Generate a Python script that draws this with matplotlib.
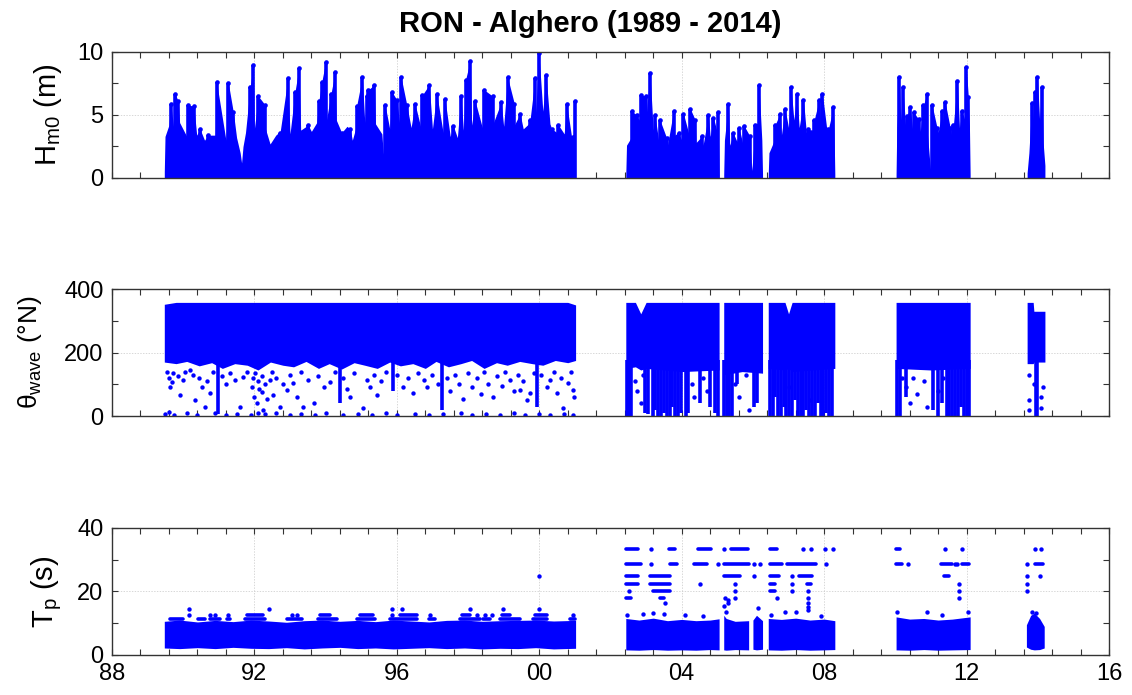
import numpy as np
import matplotlib
matplotlib.use('Agg')
import matplotlib.pyplot as plt
from matplotlib.ticker import MultipleLocator, FuncFormatter

plt.rcParams['font.family'] = ['Liberation Sans', 'DejaVu Sans']
plt.rcParams['mathtext.fontset'] = 'custom'
plt.rcParams['mathtext.rm'] = 'Liberation Sans'
plt.rcParams['mathtext.it'] = 'Liberation Sans:italic'

BLUE = '#0000ff'
nan = np.nan

# ---------------- Hm0 (m) ----------------
# top of the solid part of the cloud (decimal year, m); NaN = gap in the record
hm_floor_t = [1989.47, 1989.49, 1989.6, 1989.75, 1989.9, 1990.1, 1990.38, 1990.6, 1990.9, 1991.2,
              1991.5, 1991.6, 1991.64, 1991.68, 1991.75, 1992.0, 1992.3, 1992.44, 1992.6, 1992.72,
              1993.0, 1993.3, 1993.6, 1993.75, 1994.0, 1994.3, 1994.6, 1994.75, 1994.87, 1995.1,
              1995.4, 1995.58, 1995.62, 1995.66, 1995.8, 1996.1, 1996.4, 1996.7, 1997.0, 1997.3,
              1997.5, 1997.7, 1997.87, 1998.1, 1998.4, 1998.7, 1999.0, 1999.3, 1999.55, 1999.74,
              1999.9, 2000.1, 2000.3, 2000.5, 2000.7, 2000.9, 2001.0, 2001.02, nan,
              2002.43, 2002.45, 2002.6, 2002.8, 2003.0, 2003.2, 2003.35, 2003.6, 2003.8, 2004.0,
              2004.2, 2004.4, 2004.6, 2004.8, 2005.0, 2005.03, 2005.05, nan,
              2005.18, 2005.2, 2005.35, 2005.55, 2005.75, 2005.93, 2005.97, 2006.02, 2006.15,
              2006.25, 2006.27, nan,
              2006.43, 2006.45, 2006.6, 2006.8, 2007.0, 2007.15, 2007.3, 2007.5, 2007.7, 2007.9,
              2008.1, 2008.28, 2008.3, nan,
              2010.02, 2010.04, 2010.15, 2010.3, 2010.5, 2010.7, 2010.9, 2010.96, 2010.99, 2011.02,
              2011.2, 2011.4, 2011.6, 2011.8, 2011.95, 2012.08, 2012.1, nan,
              2013.7, 2013.75, 2013.85, 2013.95, 2014.05, 2014.15, 2014.2]
hm_floor_v = [0.5, 3.3, 4.2, 3.6, 4.4, 3.3, 3.4, 3.0, 3.4, 3.0,
              3.2, 2.0, 1.2, 2.5, 3.6, 3.9, 4.0, 2.7, 3.4, 3.7,
              3.5, 3.8, 3.7, 4.4, 4.2, 4.6, 4.1, 3.0, 4.2, 4.4,
              4.3, 3.5, 1.9, 3.0, 3.9, 3.8, 4.0, 3.7, 3.9, 3.6,
              3.3, 3.2, 3.8, 4.2, 4.0, 4.3, 4.1, 4.2, 3.9, 4.4,
              5.2, 5.3, 4.3, 3.6, 3.5, 3.4, 3.5, 0.3, nan,
              0.3, 2.6, 3.3, 4.6, 4.9, 3.8, 3.0, 2.6, 3.4, 3.0,
              3.5, 2.8, 2.6, 3.3, 3.6, 3.4, 0.3, nan,
              0.3, 3.0, 2.6, 2.9, 2.3, 2.2, 0.6, 2.4, 4.4,
              3.0, 0.3, nan,
              0.3, 2.0, 3.0, 3.4, 4.0, 4.6, 4.0, 3.6, 3.8, 4.2,
              3.3, 3.6, 0.3, nan,
              0.3, 4.0, 4.6, 3.6, 3.4, 3.7, 3.5, 1.5, 0.6, 2.8,
              3.6, 3.3, 3.0, 4.0, 4.6, 4.2, 0.3, nan,
              0.4, 2.0, 4.5, 5.0, 4.6, 2.8, 1.0]
# storm peaks
hm_peak_t = [1989.65, 1989.77, 1989.86, 1990.13, 1990.30, 1990.47, 1990.70, 1990.94, 1991.27,
             1991.41, 1991.88, 1991.97, 1992.11, 1992.30, 1992.72, 1992.94, 1993.14, 1993.25,
             1993.51, 1993.81, 1993.89, 1994.00, 1994.15, 1994.27, 1994.45, 1994.69, 1994.87,
             1995.03, 1995.15, 1995.20, 1995.37, 1995.67, 1995.86, 1996.00, 1996.12, 1996.28,
             1996.51, 1996.72, 1996.91, 1997.12, 1997.35, 1997.59, 1997.80, 1997.93, 1998.06,
             1998.20, 1998.45, 1998.69, 1998.93, 1999.11, 1999.30, 1999.46, 1999.74, 1999.88,
             1999.99, 2000.19, 2000.35, 2000.54, 2000.77, 2001.01,
             2002.60, 2002.74, 2002.86, 2002.99, 2003.11, 2003.25, 2003.39, 2003.58, 2003.77,
             2003.91, 2004.05, 2004.24, 2004.38, 2004.56, 2004.75, 2004.89, 2005.01,
             2005.31, 2005.45, 2005.61, 2005.76, 2005.92, 2006.06, 2006.17,
             2006.62, 2006.76, 2006.90, 2007.07, 2007.23, 2007.42, 2007.56, 2007.72, 2007.86,
             2007.95, 2008.12, 2008.26,
             2010.11, 2010.21, 2010.32, 2010.42, 2010.51, 2010.65, 2010.79, 2010.89, 2011.03,
             2011.17, 2011.31, 2011.40, 2011.54, 2011.63, 2011.74, 2011.87, 2011.99, 2012.05,
             2013.83, 2013.93, 2013.99, 2014.11]
hm_peak_v = [5.9, 6.7, 6.1, 5.8, 5.7, 3.9, 3.4, 7.6, 7.5,
             5.2, 7.2, 9.0, 6.5, 5.8, 3.6, 7.9, 6.85, 8.7,
             4.2, 6.1, 7.6, 9.2, 6.7, 8.4, 3.6, 3.9, 5.7,
             8.0, 6.5, 7.0, 7.4, 5.8, 6.85, 6.2, 8.0, 5.8,
             5.9, 6.6, 7.4, 6.7, 6.3, 4.1, 6.5, 7.8, 9.3,
             6.1, 7.0, 6.5, 6.0, 8.0, 5.9, 5.1, 4.6, 7.9,
             9.9, 8.2, 3.9, 4.2, 5.9, 6.1,
             5.3, 5.0, 6.6, 6.5, 8.3, 5.0, 4.6, 3.15, 5.3,
             3.6, 5.1, 5.5, 4.6, 3.3, 5.0, 4.8, 5.2,
             5.9, 3.55, 4.0, 4.1, 3.3, 4.2, 7.4,
             4.2, 5.1, 5.5, 7.2, 6.7, 6.2, 3.85, 4.6, 6.2,
             6.7, 3.9, 5.6,
             8.0, 7.25, 4.9, 5.6, 5.2, 4.7, 5.8, 6.7, 5.8,
             4.0, 5.3, 6.0, 4.0, 4.2, 7.7, 5.3, 8.8, 6.4,
             5.95, 6.85, 8.0, 7.25]

# ---------------- wave direction (deg N) ----------------
th_band_t = [1989.47, 1989.8, 1990.1, 1990.45, 1990.8, 1991.1, 1991.45, 1991.8, 1992.1, 1992.45,
             1992.8, 1993.1, 1993.45, 1993.8, 1994.1, 1994.45, 1994.8, 1995.1, 1995.45, 1995.8,
             1996.1, 1996.45, 1996.8, 1997.1, 1997.45, 1997.8, 1998.1, 1998.45, 1998.8, 1999.1,
             1999.45, 1999.8, 2000.1, 2000.45, 2000.8, 2001.02, nan,
             2002.43, 2002.7, 2002.85, 2003.0, 2004.0, 2005.05, nan,
             2005.18, 2005.7, 2006.27, nan,
             2006.43, 2006.9, 2007.0, 2007.1, 2008.3, nan,
             2010.02, 2011.0, 2012.1, nan,
             2013.7, 2013.87, 2013.89, 2014.2]
th_band_hi = [352] + [358] * 34 + [350, nan,
              358, 358, 322, 358, 358, 358, nan,
              358, 358, 358, nan,
              358, 358, 322, 358, 358, nan,
              358, 358, 358, nan,
              358, 358, 330, 330]
th_band_lo = [170, 165, 172, 158, 168, 150, 165, 160, 145, 170,
              160, 155, 172, 150, 165, 148, 168, 160, 150, 170,
              158, 165, 150, 172, 155, 165, 175, 150, 168, 160,
              172, 165, 160, 175, 168, 175, nan,
              150, 155, 145, 150, 140, 145, nan,
              130, 140, 135, nan,
              150, 145, 150, 140, 150, nan,
              150, 145, 150, nan,
              165, 165, 170, 170]
# streaks of points reaching down towards 0 deg
th_col_t = [1990.99, 1994.41, 1995.90, 1997.26, 1999.93,
            2002.45, 2002.52, 2002.59, 2002.97, 2003.04, 2003.18, 2003.26, 2003.34, 2003.42,
            2003.50, 2003.58, 2003.66, 2003.74, 2003.82, 2003.90, 2003.97, 2004.12, 2004.18,
            2004.52, 2004.80, 2004.94, 2005.03, 2005.20, 2005.27, 2005.34, 2005.41, 2005.55,
            2006.02, 2006.11, 2006.47, 2006.55, 2006.62, 2006.70, 2006.78, 2006.86, 2006.94,
            2007.02, 2007.10, 2007.18, 2007.26, 2007.34, 2007.42, 2007.50, 2007.58, 2007.66,
            2007.74, 2007.82, 2007.90, 2007.98, 2008.06, 2008.14, 2008.22,
            2010.05, 2010.12, 2010.30, 2011.07, 2011.20, 2011.30, 2011.45, 2011.52, 2011.60,
            2011.68, 2011.76, 2011.84, 2011.92, 2012.00, 2012.07, 2013.95, 2013.99]
th_col_lo = [5, 40, 80, 20, 30,
             0, 0, 0, 10, 5, 0, 20, 0, 0,
             10, 0, 0, 30, 0, 0, 10, 0, 10,
             40, 30, 10, 0, 0, 0, 0, 0, 100,
             30, 40, 0, 0, 60, 0, 0, 30, 0,
             0, 0, 50, 0, 0, 0, 20, 0, 0,
             0, 40, 0, 0, 10, 0, 0,
             0, 0, 60, 20, 0, 40, 0, 0, 0,
             0, 0, 30, 0, 0, 0, 0, 0]
th_dots = [
    (1989.55, 140), (1989.60, 120), (1989.63, 92), (1989.68, 108), (1989.72, 135), (1989.85, 125),
    (1989.91, 66), (1990.00, 113), (1990.05, 140), (1990.20, 145), (1990.28, 129), (1990.33, 50),
    (1990.45, 120), (1990.52, 90), (1990.61, 29), (1990.68, 110), (1990.75, 71), (1990.85, 140),
    (1991.10, 125), (1991.20, 100), (1991.31, 134), (1991.45, 115), (1991.60, 29), (1991.69, 124),
    (1991.80, 140), (1991.92, 92), (1991.95, 120), (1992.00, 60), (1992.03, 135), (1992.06, 40),
    (1992.10, 110), (1992.14, 85), (1992.20, 75), (1992.22, 125), (1992.25, 20), (1992.30, 100),
    (1992.35, 55), (1992.44, 113), (1992.50, 140), (1992.53, 66), (1992.62, 120), (1992.72, 29),
    (1992.80, 100), (1992.91, 82), (1993.00, 130), (1993.09, 103), (1993.20, 60), (1993.30, 140),
    (1993.37, 29), (1993.50, 115), (1993.66, 40), (1993.80, 125), (1993.95, 90), (1994.12, 108),
    (1994.25, 140), (1994.50, 120), (1994.60, 85), (1994.69, 61), (1994.80, 135), (1995.06, 24),
    (1995.15, 115), (1995.25, 92), (1995.35, 130), (1995.43, 66), (1995.55, 110), (1995.70, 140),
    (1996.00, 130), (1996.18, 92), (1996.30, 120), (1996.46, 71), (1996.60, 135), (1996.75, 113),
    (1996.85, 90), (1997.00, 130), (1997.15, 100), (1997.40, 120), (1997.50, 80), (1997.63, 129),
    (1997.75, 100), (1997.87, 55), (1998.00, 135), (1998.10, 90), (1998.24, 119), (1998.35, 70),
    (1998.45, 140), (1998.55, 100), (1998.71, 61), (1998.80, 125), (1998.95, 95), (1999.05, 140),
    (1999.18, 113), (1999.30, 80), (1999.40, 130), (1999.46, 82), (1999.55, 110), (1999.65, 50),
    (1999.74, 71), (1999.85, 135), (2000.05, 130), (2000.21, 92), (2000.30, 115), (2000.40, 140),
    (2000.49, 71), (2000.60, 120), (2000.68, 24), (2000.80, 105), (2000.90, 140), (2000.96, 82),
    (2000.98, 60),
    (1989.50, 5), (1989.60, 12), (1989.75, 3), (1990.10, 8), (1990.40, 4), (1990.90, 10),
    (1991.20, 3), (1991.50, 6), (1991.90, 2), (1992.10, 10), (1992.30, 5), (1992.60, 8),
    (1993.00, 3), (1993.30, 6), (1993.70, 4), (1994.00, 9), (1994.50, 3), (1994.90, 6),
    (1995.30, 2), (1995.70, 8), (1996.00, 4), (1996.50, 7), (1996.90, 3), (1997.30, 5),
    (1997.80, 9), (1998.10, 3), (1998.50, 6), (1998.90, 2), (1999.30, 8), (1999.60, 4),
    (2000.00, 6), (2000.30, 3), (2000.70, 7), (2000.95, 4),
    (2002.70, 110), (2002.75, 80), (2002.85, 40), (2002.90, 130), (2004.30, 100), (2004.35, 60),
    (2004.60, 120), (2004.70, 80), (2005.50, 100), (2005.60, 60), (2005.80, 130), (2005.90, 20),
    (2007.00, 90), (2007.60, 50), (2010.20, 120), (2010.30, 90), (2010.40, 40), (2010.50, 120),
    (2010.60, 70), (2010.80, 110), (2010.90, 30), (2011.20, 80), (2011.35, 120), (2013.75, 50),
    (2013.75, 130), (2013.76, 20), (2013.90, 100), (2014.10, 60), (2014.10, 25), (2014.15, 90)]

# ---------------- peak period (s) ----------------
tp_env_t = [1989.47, 1989.9, 1990.4, 1990.9, 1991.4, 1991.9, 1992.4, 1992.9, 1993.4, 1993.9,
            1994.4, 1994.9, 1995.4, 1995.9, 1996.4, 1996.9, 1997.4, 1997.9, 1998.4, 1998.9,
            1999.4, 1999.9, 2000.4, 2001.02, nan,
            2002.43, 2002.8, 2003.2, 2003.6, 2004.0, 2004.4, 2004.8, 2005.05, nan,
            2005.18, 2005.25, 2005.5, 2005.88, nan,
            2006.0, 2006.1, 2006.27, nan,
            2006.43, 2006.8, 2007.2, 2007.6, 2008.0, 2008.3, nan,
            2010.02, 2010.4, 2010.8, 2011.2, 2011.6, 2012.1, nan,
            2013.68, 2013.8, 2013.9, 2014.05, 2014.18]
tp_env_hi = [10.6, 11.0, 10.4, 10.9, 10.5, 11.0, 10.7, 10.3, 10.8, 11.0,
             10.6, 10.9, 10.5, 11.0, 10.7, 10.4, 10.9, 11.0, 10.6, 10.8,
             10.9, 11.0, 10.7, 10.9, nan,
             11.5, 11.0, 11.6, 10.8, 11.2, 10.8, 11.0, 11.4, nan,
             12.5, 11.5, 10.6, 10.8, nan,
             11.0, 12.5, 10.8, nan,
             11.5, 11.2, 11.6, 11.0, 11.3, 10.8, nan,
             12.0, 11.3, 11.5, 11.0, 11.3, 12.0, nan,
             9.5, 12.5, 13.2, 11.5, 9.0]
tp_env_lo = [2.2, 2.0, 2.3, 2.0, 2.4, 2.1, 2.0, 2.3, 1.9, 2.2,
             2.4, 2.0, 2.2, 1.9, 2.1, 2.3, 2.0, 2.2, 1.9, 2.1,
             2.0, 2.3, 1.9, 2.1, nan,
             1.6, 1.5, 1.7, 1.5, 1.6, 1.5, 1.7, 1.6, nan,
             1.6, 1.5, 1.7, 1.6, nan,
             1.8, 1.6, 1.8, nan,
             1.6, 1.5, 1.7, 1.5, 1.6, 1.7, nan,
             1.6, 1.5, 1.7, 1.5, 1.6, 1.7, nan,
             2.5, 1.8, 1.6, 1.7, 2.2]

tp_run_start = [1989.63, 1990.43, 1990.75, 1991.22, 1991.74, 1992.91, 1993.80, 1994.87, 1995.81,
                1996.89, 1997.78, 1998.43, 1998.90, 1999.83, 2000.86,
                1991.78, 1993.84, 1994.97, 1996.09, 1997.82, 1998.95, 1999.88,
                2002.43, 2003.64, 2004.45, 2005.38, 2006.47, 2010.03,
                2002.43, 2003.67, 2004.35, 2005.19, 2006.47, 2006.97, 2010.03, 2011.28, 2011.86, 2013.92,
                2002.43, 2003.11, 2005.19, 2006.47, 2007.30, 2011.37,
                2002.43, 2003.11, 2006.47, 2007.51,
                2003.19, 2006.47,
                2002.43, 2003.38]
tp_run_end = [1990.00, 1990.61, 1991.03, 1991.31, 1992.30, 1993.33, 1994.31, 1995.39, 1996.56,
              1997.07, 1998.34, 1998.62, 1999.46, 2000.21, 2001.00,
              1992.25, 1994.12, 1995.34, 1996.56, 1998.06, 1999.18, 2000.21,
              2002.78, 2003.80, 2004.83, 2005.86, 2006.69, 2010.14,
              2002.85, 2003.88, 2004.71, 2005.88, 2006.83, 2007.78, 2010.19, 2011.59, 2012.07, 2014.16,
              2002.78, 2003.67, 2005.64, 2006.73, 2007.67, 2011.50,
              2002.78, 2003.67, 2006.62, 2007.64,
              2003.67, 2006.62,
              2002.59, 2003.50]
tp_run_level = [11.3] * 15 + [12.6] * 7 + [33.4] * 6 + [28.7] * 10 + [24.9] * 6 + [22.3] * 4 \
    + [20.0] * 2 + [18.1] * 2

tp_dot_t = [1990.17, 1990.75, 1990.89, 1991.27, 1993.05, 1993.19, 1995.86, 1996.93, 1998.24,
            1998.48, 1998.67, 2000.96,
            1990.17, 1992.42, 1995.86, 1996.14, 1998.06, 1998.97, 2000.00, 2000.00,
            2003.13, 2005.19, 2007.42, 2007.64, 2008.02, 2008.24, 2011.38, 2011.88, 2013.92, 2014.09,
            2003.13, 2005.02, 2006.02, 2006.21, 2008.05, 2010.35, 2011.67, 2011.73, 2013.70,
            2006.02, 2007.10, 2013.70, 2014.07,
            2004.50, 2005.50, 2007.10, 2011.78, 2013.70,
            2002.52, 2005.50, 2007.10, 2007.56, 2011.78, 2013.70,
            2005.21, 2005.50, 2006.67, 2007.56, 2011.78,
            2003.54, 2005.29, 2007.56, 2007.56, 2007.56, 2005.19, 2005.29,
            2002.45, 2002.90, 2003.20, 2003.50, 2004.10, 2004.60, 2005.25, 2006.13, 2006.50,
            2006.90, 2007.20, 2007.90, 2010.05, 2010.90, 2011.30, 2012.05, 2013.85, 2013.95]
tp_dot_v = [12.6, 12.6, 12.6, 12.6, 12.6, 12.6, 12.6, 12.6, 12.6,
            12.6, 12.6, 12.6,
            14.4, 14.4, 14.4, 14.4, 14.4, 14.4, 14.4, 24.9,
            33.4, 33.4, 33.4, 33.4, 33.4, 33.4, 33.4, 33.4, 33.4, 33.4,
            28.7, 28.7, 28.7, 28.7, 28.7, 28.7, 28.7, 28.7, 28.7,
            24.9, 24.9, 24.9, 24.9,
            22.3, 22.3, 22.3, 22.3, 22.3,
            20.0, 20.0, 20.0, 20.0, 20.0, 20.0,
            18.1, 18.1, 18.1, 18.1, 18.1,
            16.3, 16.3, 16.3, 15.2, 14.3, 15.5, 17.2,
            12.5, 12.8, 13.3, 12.8, 12.5, 12.3, 13.6, 14.8, 12.5,
            13.5, 13.6, 12.4, 13.6, 13.6, 12.5, 13.6, 13.6, 13.3]


def pieces(t, *cols):
    # split NaN-separated lists into contiguous pieces
    t = np.asarray(t, float)
    cols = [np.asarray(c, float) for c in cols]
    breaks = np.where(np.isnan(t))[0]
    for a, b in zip(np.r_[0, breaks + 1], np.r_[breaks, len(t)]):
        yield [t[a:b]] + [c[a:b] for c in cols]


def style_axis(ax, ymax, ymajor):
    ax.set_xlim(1988, 2016)
    ax.set_ylim(0, ymax)
    ax.xaxis.set_major_locator(MultipleLocator(4))
    ax.xaxis.set_minor_locator(MultipleLocator(0.8))
    ax.yaxis.set_major_locator(MultipleLocator(ymajor))
    ax.yaxis.set_minor_locator(MultipleLocator(ymajor / 2))
    ax.xaxis.set_major_formatter(FuncFormatter(lambda x, p: f"{int(round(x)) % 100:02d}"))
    ax.tick_params(which='both', direction='in', top=True, right=True, length=4,
                   width=0.8, color='#333333', labelsize=17, pad=6)
    ax.grid(True, which='major', ls=(0, (2, 2)), lw=0.5, color='#c8c8c8')
    ax.set_axisbelow(True)
    for s in ax.spines.values():
        s.set_color('#333333')
        s.set_linewidth(1.0)


fig = plt.figure(figsize=(11.32, 6.95), dpi=100)
ax1 = fig.add_axes([0.0989, 0.7439, 0.8808, 0.1813])
ax2 = fig.add_axes([0.0989, 0.4014, 0.8808, 0.1827])
ax3 = fig.add_axes([0.0989, 0.0576, 0.8808, 0.1827])

# Hm0: solid part plus peaks merged into one jagged envelope
pk_t = np.asarray(hm_peak_t)
pk_v = np.asarray(hm_peak_v)
for t, v in pieces(hm_floor_t, hm_floor_v):
    sel = (pk_t > t[0]) & (pk_t < t[-1])
    et = np.r_[t, pk_t[sel]]
    ev = np.r_[v, pk_v[sel]]
    order = np.argsort(et)
    ax1.fill_between(et[order], 0, ev[order], color=BLUE, lw=0)
ax1.vlines(hm_peak_t, 0, hm_peak_v, color=BLUE, lw=2.6)
ax1.scatter(hm_peak_t, hm_peak_v, s=11, color=BLUE, lw=0)
style_axis(ax1, 10, 5)
ax1.tick_params(labelbottom=False)
ax1.set_ylabel(r'$\mathregular{H_{m0}}$ (m)', fontsize=21)
fig.text(0.521, 0.966, 'RON - Alghero (1989 - 2014)', fontsize=21, fontweight='bold',
         ha='center', va='center')

# direction
for t, lo, hi in pieces(th_band_t, th_band_lo, th_band_hi):
    ax2.fill_between(t, lo, hi, color=BLUE, lw=0)
ax2.vlines(th_col_t, th_col_lo, 175, color=BLUE, lw=2.6)
th_t, th_v = zip(*th_dots)
ax2.scatter(th_t, th_v, s=10, color=BLUE, lw=0)
style_axis(ax2, 400, 200)
ax2.tick_params(labelbottom=False)
ax2.set_ylabel(r'$\mathregular{\theta_{wave}}$ (°N)', fontsize=19)

# Tp
for t, lo, hi in pieces(tp_env_t, tp_env_lo, tp_env_hi):
    ax3.fill_between(t, lo, hi, color=BLUE, lw=0)
ax3.hlines(tp_run_level, tp_run_start, tp_run_end, color=BLUE, lw=2.6, capstyle='round')
ax3.scatter(tp_dot_t, tp_dot_v, s=10, color=BLUE, lw=0)
style_axis(ax3, 40, 20)
ax3.set_ylabel(r'$\mathregular{T_p}$ (s)', fontsize=21)

for ax in (ax1, ax2, ax3):
    ax.yaxis.set_label_coords(-0.048, 0.5)
ax2.yaxis.set_label_coords(-0.068, 0.5)

fig.savefig('out.png', dpi=100)
